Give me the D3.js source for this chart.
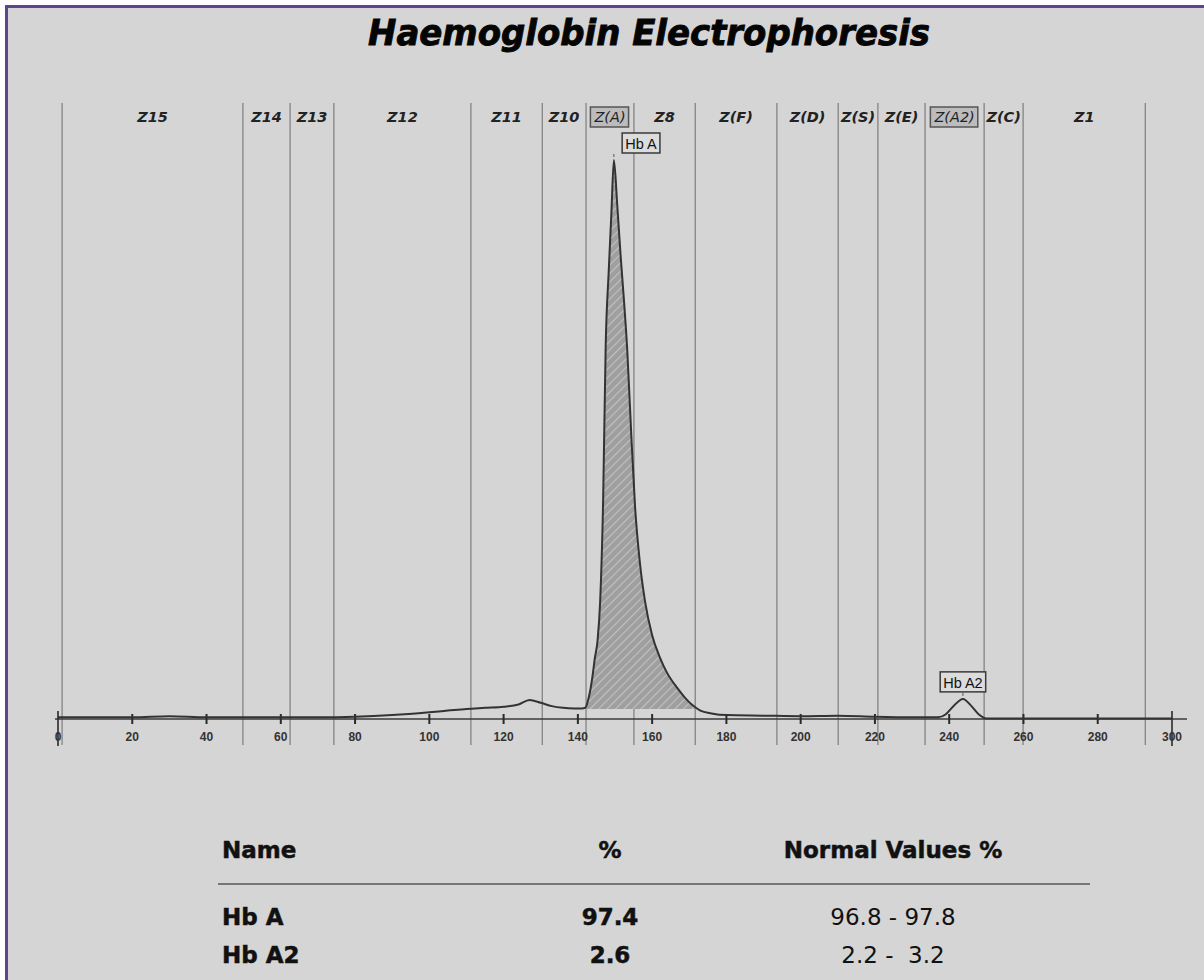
<!DOCTYPE html>
<html>
<head>
<meta charset="utf-8">
<script src="https://cdn.jsdelivr.net/npm/d3@7/dist/d3.min.js"></script>
<style>
  html, body { margin: 0; padding: 0; background: #ffffff; }
  svg { display: block; }
</style>
</head>
<body>
<script>
// ---------------- data ----------------
const titleText = "Haemoglobin Electrophoresis";

// zone boundaries (migration units) and zone names between them
const zoneBounds = [1.1, 49.8, 62.5, 74.3, 111.2, 130.4, 142.2, 155.1, 171.6, 193.6, 210.1, 220.8, 233.5, 249.4, 259.9, 292.8];
const zoneNames  = ["Z15", "Z14", "Z13", "Z12", "Z11", "Z10", "Z(A)", "Z8", "Z(F)", "Z(D)", "Z(S)", "Z(E)", "Z(A2)", "Z(C)", "Z1"];
const boxedZones = ["Z(A)", "Z(A2)"];

// axis ticks
const tickValues = [0, 20, 40, 60, 80, 100, 120, 140, 160, 180, 200, 220, 240, 260, 280, 300];

// densitometry trace: position and relative intensity (% of highest peak)
const tracePos = [0, 10, 20, 30, 40, 50, 60, 70, 80, 90, 100, 105, 110, 115, 120, 124, 127, 130, 133, 136, 139, 141, 142,
  142.6, 143.3, 143.8, 144.6, 145.3, 146.0, 146.8, 147.5, 148.3, 149.0, 149.7, 150.6, 151.5, 152.4, 153.3, 154.3, 155.4,
  156.7, 158.1, 160, 162.1, 164, 166.7, 169, 171, 173, 176, 180, 190, 200, 210, 220, 230, 237, 239, 241, 243.7, 246, 248,
  250, 260, 280, 300];
const traceVal = [0.3, 0.3, 0.3, 0.5, 0.3, 0.3, 0.3, 0.3, 0.4, 0.7, 1.2, 1.5, 1.8, 2.0, 2.2, 2.6, 3.4, 2.9, 2.3, 2.0, 1.9, 1.9, 2.0,
  3.0, 5.0, 7.0, 11, 14, 21, 39, 67, 80, 90, 100, 92, 83, 75, 66, 52, 38,
  28, 21, 15, 11, 8.3, 5.6, 3.7, 2.4, 1.5, 1.0, 0.7, 0.6, 0.5, 0.6, 0.4, 0.3, 0.3, 0.8, 2.2, 3.6, 2.3, 0.8,
  0.1, 0.1, 0.1, 0.1];

// integrated Hb A region (hatched) and its baseline
const hbARange = [142.2, 172];
const hbABaseline = 1.8;

// peak labels
const peakNames = ["Hb A", "Hb A2"];
const peakPos   = [149.7, 243.7];
const peakVal   = [100, 3.6];

// results table
const tableHeaders   = ["Name", "%", "Normal Values %"];
const fractionNames  = ["Hb A", "Hb A2"];
const fractionPcts   = ["97.4", "2.6"];
const normalRanges   = ["96.8 - 97.8", "2.2 -  3.2"];

// ---------------- drawing ----------------
const W = 1204, H = 980;
const svg = d3.select("body").append("svg").attr("width", W).attr("height", H);

// page background + purple frame
svg.append("rect").attr("x", 0).attr("y", 0).attr("width", W).attr("height", H).attr("fill", "#ffffff");
svg.append("rect").attr("x", 5).attr("y", 5).attr("width", W - 5).attr("height", H - 5).attr("fill", "#d5d5d5");
svg.append("line").attr("x1", 5).attr("x2", W).attr("y1", 6.5).attr("y2", 6.5).attr("stroke", "#5b4790").attr("stroke-width", 3);
svg.append("line").attr("x1", 6.5).attr("x2", 6.5).attr("y1", 5).attr("y2", H).attr("stroke", "#5b4790").attr("stroke-width", 3);

const defs = svg.append("defs");
const pat = defs.append("pattern").attr("id", "hatch").attr("patternUnits", "userSpaceOnUse")
  .attr("width", 6).attr("height", 6).attr("patternTransform", "rotate(45)");
pat.append("rect").attr("width", 6).attr("height", 6).attr("fill", "#9f9f9f");
pat.append("line").attr("x1", 0).attr("x2", 0).attr("y1", 0).attr("y2", 6).attr("stroke", "#c2c2c2").attr("stroke-width", 2.2);

// title
svg.append("text").text(titleText)
  .attr("x", 649).attr("y", 45).attr("text-anchor", "middle")
  .attr("font-family", "DejaVu Sans").attr("font-weight", "bold").attr("font-style", "italic")
  .attr("font-size", 35).attr("textLength", 562).attr("lengthAdjust", "spacingAndGlyphs")
  .attr("fill", "#050505").attr("stroke", "#050505").attr("stroke-width", 0.9);

// scales
const x = d3.scaleLinear().domain([0, 300]).range([58, 1172]);
const y = d3.scaleLinear().domain([0, 100]).range([719, 160]);

// zone lines
svg.append("g").selectAll("line").data(zoneBounds).join("line")
  .attr("x1", d => x(d)).attr("x2", d => x(d))
  .attr("y1", 103).attr("y2", 745)
  .attr("stroke", "#757575").attr("stroke-width", 1.1);

// zone labels
const zoneData = zoneNames.map((n, i) => ({ name: n, cx: (zoneBounds[i] + zoneBounds[i + 1]) / 2 }));
const zg = svg.append("g");
zoneData.forEach(z => {
  const boxed = boxedZones.includes(z.name);
  const t = zg.append("text").text(z.name)
    .attr("x", x(z.cx)).attr("y", 122).attr("text-anchor", "middle")
    .attr("font-family", "DejaVu Sans").attr("font-style", "italic")
    .attr("font-weight", boxed ? "normal" : "bold")
    .attr("font-size", 14.5).attr("fill", "#222");
  if (boxed) {
    const bb = t.node().getBBox();
    zg.insert("rect", "text")
      .attr("x", bb.x - 3).attr("y", 107).attr("width", bb.width + 6).attr("height", 20)
      .attr("fill", "#bcbcbc").attr("stroke", "#555").attr("stroke-width", 1.5);
  }
});

// hatched Hb A area
const trace = tracePos.map((p, i) => ({ p, v: traceVal[i] }));
const interp = p => {
  for (let i = 0; i < trace.length - 1; i++) {
    if (p >= trace[i].p && p <= trace[i + 1].p) {
      const t = (p - trace[i].p) / (trace[i + 1].p - trace[i].p);
      return trace[i].v + t * (trace[i + 1].v - trace[i].v);
    }
  }
  return 0;
};
const areaPts = [{ p: hbARange[0], v: Math.max(hbABaseline, interp(hbARange[0])) }]
  .concat(trace.filter(d => d.p > hbARange[0] && d.p < hbARange[1]).map(d => ({ p: d.p, v: Math.max(d.v, hbABaseline) })))
  .concat([{ p: hbARange[1], v: Math.max(hbABaseline, interp(hbARange[1])) }]);
svg.append("path").datum(areaPts)
  .attr("d", d3.area().x(d => x(d.p)).y0(y(hbABaseline)).y1(d => y(d.v)).curve(d3.curveMonotoneX))
  .attr("fill", "url(#hatch)").attr("stroke", "none");

// axis
const axisY = 719;
const ag = svg.append("g");
ag.append("line").attr("x1", x(0) - 3).attr("x2", 1187).attr("y1", axisY).attr("y2", axisY)
  .attr("stroke", "#3a3a3a").attr("stroke-width", 1.6);
ag.selectAll("line.tick").data(tickValues).join("line").attr("class", "tick")
  .attr("x1", d => x(d)).attr("x2", d => x(d))
  .attr("y1", d => (d === 0 || d === 300) ? axisY - 8 : axisY - 5)
  .attr("y2", d => (d === 0 || d === 300) ? axisY + 27 : axisY + 5)
  .attr("stroke", "#2a2a2a").attr("stroke-width", d => (d === 0 || d === 300) ? 1.6 : 2);
ag.selectAll("text").data(tickValues).join("text")
  .text(d => d)
  .attr("x", d => x(d)).attr("y", 741).attr("text-anchor", "middle")
  .attr("font-family", "Liberation Sans").attr("font-weight", "bold").attr("font-size", 12)
  .attr("fill", "#333");

// trace line
svg.append("path").datum(trace)
  .attr("d", d3.line().x(d => x(d.p)).y(d => y(d.v)).curve(d3.curveMonotoneX))
  .attr("fill", "none").attr("stroke", "#333").attr("stroke-width", 2);

// peak labels
const pg = svg.append("g");
peakNames.forEach((n, i) => {
  const cx = i === 0 ? x(peakPos[i]) + 27 : x(peakPos[i]);
  const top = y(peakVal[i]) - 27;
  const t = pg.append("text").text(n)
    .attr("x", cx).attr("y", top + 16).attr("text-anchor", "middle")
    .attr("font-family", "Liberation Sans").attr("font-size", 14.5).attr("fill", "#111");
  const bb = t.node().getBBox();
  pg.insert("rect", "text")
    .attr("x", bb.x - 3).attr("y", top).attr("width", bb.width + 6).attr("height", 20)
    .attr("fill", "#dcdcdc").attr("stroke", "#3a3a3a").attr("stroke-width", 1.5);
  pg.append("line").attr("x1", x(peakPos[i])).attr("x2", x(peakPos[i]))
    .attr("y1", top + 21).attr("y2", y(peakVal[i]) - 3).attr("stroke", "#555").attr("stroke-width", 1);
});

// results table
const tg = svg.append("g").attr("font-family", "DejaVu Sans").attr("fill", "#111");
const colX = [222, 610, 893];
const colAnchor = ["start", "middle", "middle"];
tableHeaders.forEach((h, i) => {
  tg.append("text").text(h).attr("x", colX[i]).attr("y", 858).attr("text-anchor", colAnchor[i])
    .attr("font-weight", "bold").attr("font-size", 23).attr("stroke", "#111").attr("stroke-width", 0.5);
});
tg.append("line").attr("x1", 218).attr("x2", 1090).attr("y1", 884).attr("y2", 884)
  .attr("stroke", "#777").attr("stroke-width", 2);
const rowY = [925, 963];
fractionNames.forEach((n, i) => {
  tg.append("text").text(n).attr("x", colX[0]).attr("y", rowY[i]).attr("text-anchor", "start")
    .attr("font-weight", "bold").attr("font-size", 23).attr("stroke", "#111").attr("stroke-width", 0.5);
  tg.append("text").text(fractionPcts[i]).attr("x", colX[1]).attr("y", rowY[i]).attr("text-anchor", "middle")
    .attr("font-weight", "bold").attr("font-size", 23).attr("stroke", "#111").attr("stroke-width", 0.5);
  tg.append("text").text(normalRanges[i]).attr("x", colX[2]).attr("y", rowY[i]).attr("text-anchor", "middle")
    .attr("font-size", 23).style("white-space", "pre");
});
</script>
</body>
</html>
